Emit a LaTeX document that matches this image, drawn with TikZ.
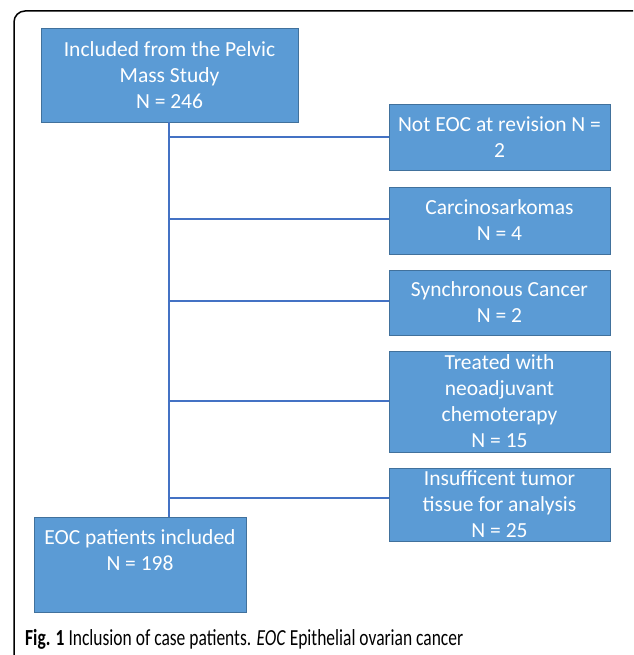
\documentclass[tikz,border=0pt]{standalone}
\usepackage{fontspec}
\setmainfont{Carlito}
\usepackage{graphicx}
\definecolor{boxfill}{HTML}{5B9BD5}
\definecolor{boxedge}{HTML}{41719C}
\definecolor{linkblue}{HTML}{4472C4}
\begin{document}
\begin{tikzpicture}[x=1pt,y=-1pt,
  box/.style={draw=boxedge, line width=0.8pt, fill=boxfill, text=white, align=center,
    inner sep=0pt, font=\fontsize{21.5pt}{26pt}\selectfont},
  link/.style={draw=linkblue, line width=1.5pt},
  txt/.style={text=white, align=center, inner sep=0pt, font=\fontsize{21.5pt}{26pt}\selectfont}]
\useasboundingbox (0,0) rectangle (633,655);
\clip (0,0) rectangle (633,655);
\fill[white] (0,0) rectangle (633,655);
\draw[black, line width=1.5pt, rounded corners=11pt] (14,11) rectangle (650,668);

\node[box, minimum width=257pt, minimum height=94pt] (top) at (169.5,75)
  {Included from the Pelvic\\Mass Study\\N = 246};
\node[box, minimum width=221pt, minimum height=66pt] (b1) at (499.5,137)
  {Not EOC at revision N =\\2};
\node[box, minimum width=221pt, minimum height=67pt] (b2) at (499.5,220.5)
  {Carcinosarkomas\\N = 4};
\node[box, minimum width=221pt, minimum height=65pt] (b3) at (499.5,302.5)
  {Synchronous Cancer\\N = 2};
\node[box, minimum width=221pt, minimum height=101pt] (b4) at (499.5,401.5)
  {Treated with\\neoadjuvant\\chemoterapy\\N = 15};
\node[box, minimum width=221pt, minimum height=73pt] (b5) at (499.5,504.5)
  {Insufficent tumor\\tissue for analysis\\N = 25};
\node[box, minimum width=212pt, minimum height=95pt] (eoc) at (140,564.5) {};
\node[txt, anchor=north] (eoct) at (140,529) {EOC patients included\\N = 198};

\coordinate (t) at (169,122);
\coordinate (e) at (169,517);
\coordinate (j1) at (169,137);
\coordinate (j2) at (169,219);
\coordinate (j3) at (169,301);
\coordinate (j4) at (169,401);
\coordinate (j5) at (169,498);
\draw[link] (t) -- (e);
\draw[link] (j1) -- (j1 -| b1.west);
\draw[link] (j2) -- (j2 -| b2.west);
\draw[link] (j3) -- (j3 -| b3.west);
\draw[link] (j4) -- (j4 -| b4.west);
\draw[link] (j5) -- (j5 -| b5.west);

\node[anchor=base west, inner sep=0pt, font=\fontsize{23pt}{26pt}\selectfont] (cap) at (25,645)
  {\resizebox{438pt}{\height}{\textbf{Fig. 1} Inclusion of case patients. \textit{EOC} Epithelial ovarian cancer}};
\end{tikzpicture}
\end{document}
